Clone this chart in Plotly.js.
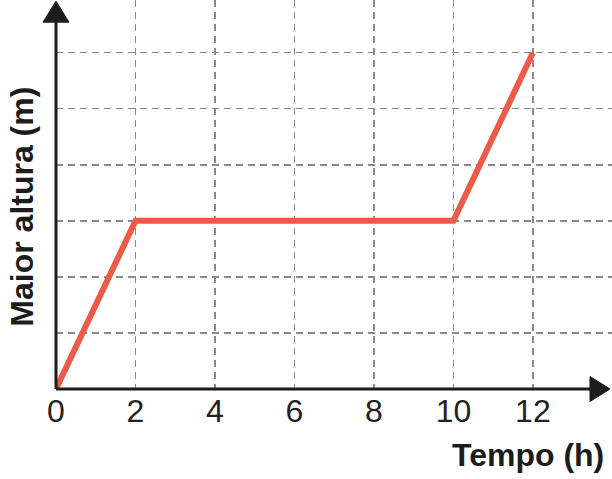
<!DOCTYPE html>
<html>
<head>
<meta charset="utf-8">
<script src="https://cdn.plot.ly/plotly-3.0.1.min.js"></script>
<style>
  html, body { margin: 0; padding: 0; background: #fff; }
  #grafico { width: 612px; height: 479px; }
</style>
</head>
<body>
<div id="grafico"></div>
<script>
// dados
var tempo = [0, 2, 10, 12]
var altura = [0, 3, 3, 6]
var ticksTempo = [0, 2, 4, 6, 8, 10, 12]
var tituloX = 'Tempo (h)'
var tituloY = 'Maior altura (m)'

var fonte = '"Liberation Sans", Arial, sans-serif'
var cinzaGrade = '#8a8a8a'
var preto = '#1c1c1c'

var data = [
    {
        x: tempo,
        y: altura,
        type: 'scatter',
        mode: 'lines',
        line: { color: '#ec5a48', width: 6 },
        hoverinfo: 'none'
    }
]

var layout = {
    width: 612,
    height: 479,
    margin: { l: 56, r: 0, t: 0, b: 90 },
    paper_bgcolor: '#fff',
    plot_bgcolor: '#fff',
    showlegend: false,
    font: { family: fonte, color: preto },
    xaxis: {
        range: [0, 13.99],
        tickvals: ticksTempo,
        ticktext: ticksTempo.map(String),
        ticks: '',
        showline: false,
        zeroline: false,
        showgrid: true,
        gridcolor: cinzaGrade,
        gridwidth: 1.5,
        griddash: '7px,5px',
        tickfont: { size: 32, color: '#222' },
        fixedrange: true
    },
    yaxis: {
        range: [0, 6.94],
        tick0: 0,
        dtick: 1,
        showticklabels: false,
        ticks: '',
        showline: false,
        zeroline: false,
        showgrid: true,
        gridcolor: cinzaGrade,
        gridwidth: 1.5,
        griddash: '7px,5px',
        fixedrange: true
    },
    shapes: [
        // eixo y com seta
        { type: 'line', xref: 'paper', yref: 'paper', x0: 0, x1: 0, y0: 0, y1: 0.945,
          line: { color: preto, width: 3 } },
        { type: 'path', xref: 'paper', yref: 'paper',
          path: 'M -0.0234 0.943 L 0 0.997 L 0.0234 0.943 Z',
          fillcolor: preto, line: { color: preto, width: 1 } },
        // eixo x com seta
        { type: 'line', xref: 'paper', yref: 'paper', x0: 0, x1: 0.962, y0: 0, y1: 0,
          line: { color: preto, width: 3 } },
        { type: 'path', xref: 'paper', yref: 'paper',
          path: 'M 0.9604 0.0321 L 0.9964 0 L 0.9604 -0.0321 Z',
          fillcolor: preto, line: { color: preto, width: 1 } }
    ],
    annotations: [
        { text: '<b>' + tituloX + '</b>', xref: 'paper', yref: 'paper',
          x: 0.989, y: -0.17, xanchor: 'right', yanchor: 'middle', showarrow: false,
          font: { size: 32, color: preto } },
        { text: '<b>' + tituloY + '</b>', xref: 'paper', yref: 'paper',
          x: -0.0617, y: 0.468, xanchor: 'center', yanchor: 'middle', textangle: -90,
          showarrow: false, font: { size: 32, color: preto } }
    ]
}

Plotly.newPlot('grafico', data, layout, { displayModeBar: false, staticPlot: true })
</script>
</body>
</html>
